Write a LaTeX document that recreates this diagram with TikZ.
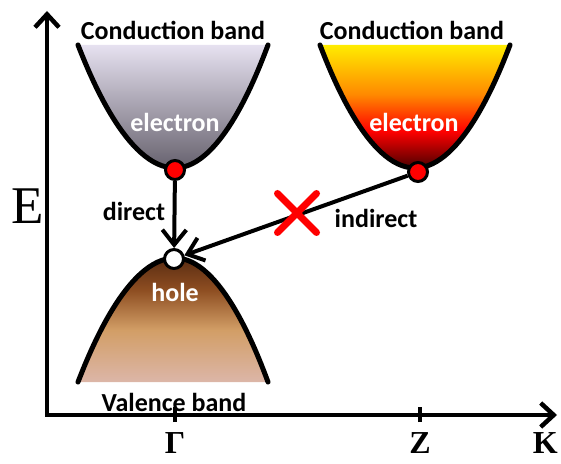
\documentclass[tikz,border=0pt]{standalone}
\usepackage{fontspec}
\setmainfont{Liberation Serif}
\newfontfamily\bandfont{Carlito}
\usetikzlibrary{arrows.meta,positioning,calc,shapes.misc}
\definecolor{cbtop}{HTML}{E6E1F0}
\definecolor{cbbot}{HTML}{67626E}
\definecolor{hotyellow}{HTML}{FFEC00}
\definecolor{hotorange}{HTML}{FF8A00}
\definecolor{hotred}{HTML}{FF0000}
\definecolor{hotdark}{HTML}{4A0000}
\definecolor{vbtop}{HTML}{5A2C12}
\definecolor{vbsienna}{HTML}{8E4E22}
\definecolor{vbtan}{HTML}{D29E66}
\definecolor{vbbot}{HTML}{DCB6A8}
\pgfdeclareverticalshading{hotband}{100bp}{color(0bp)=(hotdark); color(25bp)=(hotdark);
  color(40bp)=(hotred); color(55bp)=(hotorange); color(75bp)=(hotyellow); color(100bp)=(hotyellow)}
\pgfdeclareverticalshading{valband}{100bp}{color(0bp)=(vbbot); color(25bp)=(vbbot);
  color(46bp)=(vbtan); color(62bp)=(vbsienna); color(75bp)=(vbtop); color(100bp)=(vbtop)}
\tikzset{
  bandline/.style   = {line width=5pt, line cap=round, black},
  axisline/.style   = {line width=4.5pt, line join=miter, black,
                       {Straight Barb[length=13pt,width=24pt,line width=4.5pt]}-{Straight Barb[length=13pt,width=24pt,line width=4.5pt]}},
  tickline/.style   = {line width=4.5pt, black},
  trarrow/.style    = {line width=4pt, black, -{Straight Barb[length=15pt,width=24pt,line width=4pt]}},
  eldot/.style      = {circle, draw=black, line width=3pt, fill=red, minimum size=19pt, inner sep=0pt},
  holedot/.style    = {circle, draw=black, line width=3pt, fill=white, minimum size=19pt, inner sep=0pt},
  bandlbl/.style    = {font=\bandfont\fontsize{26}{28}\selectfont\bfseries, text=black, inner sep=0pt},
  carrierlbl/.style = {font=\bandfont\fontsize{26}{28}\selectfont\bfseries, text=white, inner sep=0pt},
  kindlbl/.style    = {font=\bandfont\fontsize{26}{28}\selectfont\bfseries, text=black, inner sep=0pt},
  axislbl/.style    = {font=\fontsize{32}{34}\selectfont\bfseries, inner sep=0pt},
  nogo/.style       = {cross out, draw=red, line width=7pt, line cap=round, minimum size=32pt, inner sep=0pt},
}
\begin{document}
\begin{tikzpicture}[x=1pt,y=1pt]
\useasboundingbox (0,0) rectangle (561,463);
% filled bands
\shade[top color=cbtop, bottom color=cbbot] (78,418) parabola bend (175,295) (268,418) -- cycle;
\shade[shading=hotband] (320,418) parabola bend (415,295) (510,418) -- cycle;
\shade[shading=valband] (78,81) parabola bend (175,205) (268,81) -- cycle;
\draw[bandline] (78,418) parabola bend (175,295) (268,418);
\draw[bandline] (320,418) parabola bend (415,295) (510,418);
\draw[bandline] (78,81) parabola bend (175,205) (268,81);

% axes
\coordinate (O) at (47,48);
\coordinate (Etop) at (47,452);
\coordinate (Kend) at (557,48);
\coordinate (G) at (175,48);
\coordinate (Zp) at (420,48);
\draw[axisline] (Etop) -- (O) -- (Kend);
\draw[tickline] (G) ++(0,-7) -- ++(0,15);
\draw[tickline] (Zp) ++(0,-7) -- ++(0,15);
\node[font=\fontsize{53}{55}\selectfont, inner sep=0pt] (Elbl) at (28,257) {E};
\node[axislbl, anchor=north] (Glbl) at (175,31) {Γ};
\node[axislbl, anchor=north] (Zlbl) at (420,31) {Z};
\node[axislbl, anchor=north east] (Klbl) at (558,31) {K};

% labels
\node[bandlbl] (cbL) at (173,433) {Conduction band};
\node[bandlbl] (cbR) at (412,433) {Conduction band};
\node[bandlbl] (vb) at (174,61) {Valence band};
\node[carrierlbl] (elL) at (175,341) {electron};
\node[carrierlbl] (elR) at (414,341) {electron};
\node[carrierlbl] (hl) at (175,171) {hole};

% carriers and transitions
\node[eldot] (eL) at (175,293) {};
\node[eldot] (eR) at (418,291) {};
\node[holedot] (h) at (174,204) {};
\draw[trarrow] (eL) -- (h);
\draw[trarrow] (eR) -- (h);
\node[kindlbl] (dir) at (134,252) {direct};
\node[kindlbl] (ind) at (376,245) {indirect};
\node[nogo] (x) at (297,250) {};
\end{tikzpicture}
\end{document}
